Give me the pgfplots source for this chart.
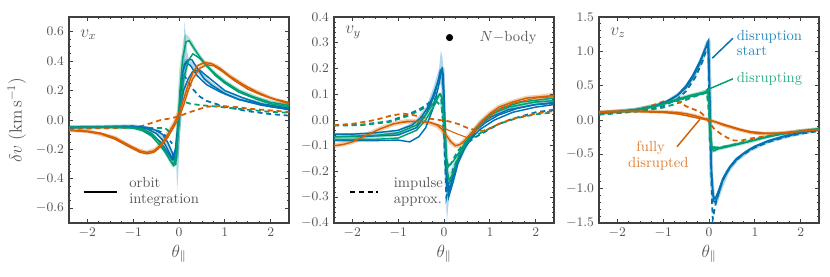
\documentclass[border=0pt]{standalone}
\usepackage{pgfplots}
\pgfplotsset{compat=1.18}
\definecolor{cB}{HTML}{0072B2}
\definecolor{cG}{HTML}{009E73}
\definecolor{cO}{HTML}{D55E00}
\definecolor{txt}{HTML}{555555}
\definecolor{frame}{HTML}{404040}
\pgfplotsset{
  myax/.style={
    scale only axis, width=150.3pt, height=140.7pt,
    xmin=-2.4, xmax=2.4, xtick={-2,-1,0,1,2}, minor x tick num=3,
    tick align=inside, xtick pos=both, ytick pos=both,
    major tick length=3pt, minor tick length=1.6pt,
    axis line style={frame, line width=0.9pt},
    every tick/.style={frame, line width=0.6pt},
    tick label style={font=\small, color=txt},
    yticklabel style={/pgf/number format/fixed, /pgf/number format/fixed zerofill, /pgf/number format/precision=1},
    xlabel={$\theta_\parallel$}, xlabel style={font=\large, color=txt, yshift=2pt},
    clip=true,
  },
  sol/.style={line width=1.0pt},
  das/.style={line width=1.2pt, dash pattern=on 3.5pt off 2.5pt},
  nb/.style={line width=2.6pt, opacity=0.3, line join=round},
  spk/.style={draw=none, fill opacity=0.3},
}
\begin{document}
\begin{tikzpicture}
\path[use as bounding box] (-47.13pt,-36.88pt) rectangle (519.76pt,152.31pt);
% ---------------- Panel 1: v_x ----------------
\begin{axis}[myax, at={(0pt,0pt)}, ymin=-0.7, ymax=0.7, ytick={-0.6,-0.4,...,0.61}, minor y tick num=3,
  ylabel={$\delta v\;(\mathrm{km\,s^{-1}})$}, ylabel style={font=\large, color=txt}]
% N-body
\addplot[cB, spk, fill=cB] coordinates {(-0.07,-0.22) (-0.04,-0.48) (-0.01,-0.32) (0.03,0.0) (0.08,0.32) (0.12,0.67) (0.17,0.48) (0.22,0.4) (0.12,0.22) (0.03,-0.06) (-0.02,-0.18) (-0.07,-0.22)};
\addplot[cB, nb] coordinates {(-2.4,-0.05) (-1.0,-0.042) (-0.6,-0.06) (-0.35,-0.12) (-0.2,-0.2) (-0.1,-0.28) (-0.05,-0.25) (0.05,0.2) (0.15,0.4) (0.3,0.38) (0.45,0.32) (0.6,0.27) (0.8,0.22) (1.1,0.17) (1.5,0.13) (2.0,0.1) (2.4,0.08)};
\addplot[cG, nb] coordinates {(-2.4,-0.05) (-1.0,-0.05) (-0.6,-0.09) (-0.3,-0.21) (-0.12,-0.31) (-0.05,-0.2) (0.05,0.35) (0.15,0.57) (0.25,0.53) (0.4,0.45) (0.6,0.37) (0.8,0.31) (1.0,0.26) (1.3,0.2) (1.7,0.15) (2.0,0.12) (2.4,0.1)};
\addplot[cO, nb] coordinates {(-2.4,-0.07) (-2.0,-0.075) (-1.4,-0.12) (-1.0,-0.19) (-0.72,-0.22) (-0.5,-0.2) (-0.3,-0.12) (-0.1,-0.02) (0.1,0.14) (0.3,0.32) (0.55,0.39) (0.8,0.37) (1.1,0.3) (1.5,0.22) (2.0,0.15) (2.4,0.11)};
% dashed (impulse)
\addplot[cB, das] coordinates {(-2.4,-0.05) (-1.5,-0.045) (-1.0,-0.045) (-0.6,-0.06) (-0.4,-0.08) (-0.25,-0.12) (-0.15,-0.16)};
\addplot[cB, das] coordinates {(0.1,0.31) (0.2,0.26) (0.3,0.21) (0.45,0.16) (0.6,0.13) (0.8,0.11) (1.0,0.09) (1.5,0.06) (2.0,0.04) (2.4,0.03)};
\addplot[cG, das] coordinates {(-2.4,-0.055) (-1.5,-0.05) (-1.0,-0.05) (-0.6,-0.055) (-0.3,-0.055) (-0.18,-0.09)};
\addplot[cG, das] coordinates {(0.15,0.12) (0.25,0.11) (0.5,0.1) (0.7,0.095) (1.0,0.085) (1.5,0.07) (2.0,0.055) (2.4,0.05)};
\addplot[cO, das] coordinates {(-2.4,-0.06) (-1.5,-0.055) (-1.0,-0.05) (-0.8,-0.04) (-0.6,-0.02) (-0.4,0.0) (-0.2,0.01) (0,0.025) (0.2,0.05) (0.4,0.07) (0.6,0.09) (0.9,0.095) (1.2,0.09) (1.6,0.075) (2.0,0.065) (2.4,0.055)};
% solid (orbit integration)
\addplot[cB, sol] coordinates {(-2.4,-0.05) (-2,-0.048) (-1.5,-0.045) (-1.0,-0.042) (-0.7,-0.05) (-0.5,-0.07) (-0.35,-0.1) (-0.25,-0.15) (-0.15,-0.22) (-0.1,-0.28) (-0.06,-0.25) (-0.02,-0.05) (0.02,0.15) (0.06,0.3) (0.12,0.38) (0.2,0.41) (0.28,0.41) (0.4,0.35) (0.55,0.28) (0.7,0.24) (1.0,0.18) (1.3,0.14) (1.6,0.12) (2.0,0.09) (2.4,0.07)};
\addplot[cB, sol] coordinates {(-2.4,-0.05) (-1.5,-0.045) (-1.0,-0.045) (-0.7,-0.06) (-0.5,-0.09) (-0.35,-0.14) (-0.25,-0.2) (-0.15,-0.26) (-0.08,-0.2) (0.0,0.05) (0.1,0.2) (0.2,0.28) (0.3,0.33) (0.45,0.34) (0.6,0.3) (0.8,0.25) (1.0,0.2) (1.4,0.15) (1.8,0.11) (2.4,0.08)};
\addplot[cB, sol] coordinates {(-2.4,-0.052) (-1.5,-0.047) (-1.0,-0.05) (-0.8,-0.07) (-0.6,-0.1) (-0.4,-0.15) (-0.25,-0.22) (-0.15,-0.27) (-0.1,-0.25) (-0.05,-0.15) (0.0,0.0) (0.03,0.15) (0.08,0.33) (0.15,0.39) (0.25,0.37) (0.4,0.3) (0.6,0.24) (0.9,0.19) (1.3,0.14) (1.8,0.1) (2.4,0.075)};
\addplot[cG, sol] coordinates {(-2.4,-0.05) (-1.5,-0.048) (-1.0,-0.05) (-0.8,-0.06) (-0.6,-0.09) (-0.45,-0.14) (-0.3,-0.21) (-0.2,-0.27) (-0.12,-0.31) (-0.07,-0.3) (-0.03,-0.1) (0.02,0.2) (0.08,0.42) (0.15,0.53) (0.22,0.54) (0.3,0.5) (0.45,0.43) (0.6,0.37) (0.8,0.31) (1.0,0.26) (1.3,0.2) (1.6,0.16) (2.0,0.12) (2.4,0.1)};
\addplot[cG, sol] coordinates {(-2.4,-0.05) (-1.5,-0.05) (-1.0,-0.055) (-0.8,-0.07) (-0.6,-0.11) (-0.45,-0.16) (-0.3,-0.22) (-0.18,-0.28) (-0.1,-0.3) (-0.05,-0.2) (0.02,0.05) (0.1,0.28) (0.2,0.4) (0.3,0.45) (0.45,0.42) (0.6,0.37) (0.8,0.3) (1.0,0.25) (1.3,0.19) (1.7,0.14) (2.0,0.11) (2.4,0.09)};
\addplot[cO, sol] coordinates {(-2.4,-0.07) (-2.0,-0.075) (-1.7,-0.09) (-1.4,-0.12) (-1.1,-0.17) (-0.85,-0.21) (-0.7,-0.22) (-0.55,-0.21) (-0.4,-0.17) (-0.25,-0.1) (-0.1,-0.02) (0,0.05) (0.1,0.14) (0.2,0.24) (0.3,0.32) (0.4,0.37) (0.55,0.39) (0.7,0.385) (0.9,0.35) (1.1,0.3) (1.4,0.24) (1.7,0.19) (2.0,0.15) (2.4,0.11)};
\addplot[cO, sol] coordinates {(-2.4,-0.07) (-2.0,-0.08) (-1.7,-0.095) (-1.4,-0.13) (-1.1,-0.18) (-0.85,-0.22) (-0.7,-0.23) (-0.55,-0.22) (-0.4,-0.18) (-0.25,-0.12) (-0.1,-0.04) (0,0.02) (0.1,0.1) (0.2,0.2) (0.3,0.28) (0.45,0.35) (0.6,0.375) (0.75,0.37) (0.95,0.33) (1.2,0.27) (1.5,0.21) (1.8,0.17) (2.1,0.14) (2.4,0.12)};
% legend: orbit integration
\addplot[black, line width=1.2pt] coordinates {(-2.08,-0.49) (-1.36,-0.49)};
\node[anchor=west, align=left, color=txt, inner sep=0pt, font=\normalsize\linespread{0.9}\selectfont] at (axis cs:-1.09,-0.49) {orbit\\integration};
\node[anchor=west, color=txt, inner sep=0pt, font=\large] at (axis cs:-2.16,0.58) {$v_x$};
\end{axis}
% ---------------- Panel 2: v_y ----------------
\begin{axis}[myax, at={(181pt,0pt)}, ymin=-0.4, ymax=0.4, ytick={-0.4,-0.3,...,0.41}, minor y tick num=4]
\addplot[cB, spk, fill=cB] coordinates {(-0.14,0.14) (-0.07,0.27) (-0.03,0.24) (0.0,0.05) (0.03,-0.2) (0.06,-0.4) (0.1,-0.32) (0.06,-0.22) (0.02,-0.05) (-0.03,0.12) (-0.08,0.14) (-0.14,0.14)};
\addplot[cB, nb] coordinates {(-2.4,-0.06) (-1.5,-0.055) (-1.0,-0.045) (-0.6,-0.01) (-0.35,0.05) (-0.2,0.12) (-0.08,0.19) (-0.03,0.2) (0.02,-0.1) (0.07,-0.28) (0.15,-0.25) (0.3,-0.16) (0.5,-0.09) (0.8,-0.02) (1.2,0.03) (1.8,0.06) (2.4,0.07)};
\addplot[cG, nb] coordinates {(-2.4,-0.07) (-1.5,-0.065) (-1.0,-0.055) (-0.6,-0.025) (-0.35,0.03) (-0.15,0.09) (-0.07,0.1) (0.0,0.0) (0.07,-0.2) (0.14,-0.22) (0.3,-0.14) (0.5,-0.08) (0.8,-0.01) (1.2,0.04) (1.8,0.07) (2.4,0.08)};
\addplot[cO, nb, line width=3.2pt] coordinates {(-2.4,-0.1) (-2.0,-0.085) (-1.7,-0.06) (-1.4,-0.035) (-1.1,-0.015) (-0.8,-0.005) (-0.5,-0.007) (-0.3,-0.012) (-0.15,-0.022) (-0.05,-0.037) (0.05,-0.062) (0.15,-0.087) (0.25,-0.1) (0.35,-0.096) (0.45,-0.08) (0.55,-0.06) (0.7,-0.03) (0.85,0.0) (1.0,0.025) (1.2,0.05) (1.5,0.07) (1.8,0.085) (2.1,0.09) (2.4,0.097)};
% dashed
\addplot[cB, das] coordinates {(-2.4,-0.02) (-1.8,-0.018) (-1.2,-0.005) (-0.8,0.02) (-0.5,0.045) (-0.3,0.07) (-0.15,0.09) (-0.06,0.08) (0.0,-0.05) (0.05,-0.3) (0.1,-0.26) (0.2,-0.19) (0.35,-0.13) (0.5,-0.09) (0.7,-0.065) (0.9,-0.045) (1.2,-0.015) (1.5,0.005) (2.0,0.03) (2.4,0.04)};
\addplot[cG, das] coordinates {(-2.4,-0.022) (-1.8,-0.02) (-1.2,-0.008) (-0.8,0.015) (-0.5,0.04) (-0.3,0.06) (-0.15,0.07) (-0.05,0.05) (0.02,-0.1) (0.07,-0.18) (0.15,-0.17) (0.3,-0.12) (0.5,-0.08) (0.8,-0.05) (1.2,-0.015) (1.6,0.008) (2.0,0.022) (2.4,0.03)};
\addplot[cO, das] coordinates {(-2.4,-0.02) (-2.0,-0.015) (-1.5,0.0) (-1.2,0.015) (-0.9,0.025) (-0.7,0.02) (-0.5,0.012) (-0.3,0.005) (-0.1,0.0) (0.1,-0.005) (0.3,-0.015) (0.5,-0.03) (0.7,-0.04) (0.85,-0.042) (1.0,-0.032) (1.2,-0.015) (1.5,0.005) (2.0,0.025) (2.4,0.035)};
% solid
\addplot[cB, sol] coordinates {(-2.4,-0.055) (-2,-0.055) (-1.5,-0.05) (-1.0,-0.04) (-0.7,-0.02) (-0.5,0.01) (-0.35,0.05) (-0.25,0.09) (-0.15,0.14) (-0.08,0.18) (-0.03,0.19) (0.0,0.1) (0.03,-0.1) (0.06,-0.26) (0.1,-0.28) (0.15,-0.25) (0.25,-0.19) (0.35,-0.14) (0.5,-0.09) (0.7,-0.04) (0.9,-0.01) (1.2,0.02) (1.6,0.045) (2.0,0.06) (2.4,0.065)};
\addplot[cB, sol] coordinates {(-2.4,-0.065) (-2,-0.065) (-1.5,-0.062) (-1.0,-0.058) (-0.6,-0.03) (-0.4,0.02) (-0.2,0.1) (-0.08,0.19) (-0.04,0.2) (0.0,0.05) (0.05,-0.2) (0.1,-0.3) (0.2,-0.24) (0.3,-0.17) (0.45,-0.11) (0.6,-0.07) (0.8,-0.035) (1.1,0.0) (1.5,0.03) (2.0,0.05) (2.4,0.06)};
\addplot[cB, sol] coordinates {(-2.4,-0.08) (-2,-0.08) (-1.5,-0.08) (-1.0,-0.078) (-0.75,-0.085) (-0.55,-0.065) (-0.4,-0.03) (-0.25,0.04) (-0.12,0.13) (-0.06,0.19) (-0.02,0.18) (0.02,-0.05) (0.06,-0.22) (0.12,-0.27) (0.22,-0.2) (0.35,-0.13) (0.5,-0.08) (0.7,-0.03) (1.0,0.01) (1.4,0.04) (2.0,0.06) (2.4,0.068)};
\addplot[cG, sol] coordinates {(-2.4,-0.065) (-1.5,-0.06) (-1.0,-0.05) (-0.6,-0.02) (-0.4,0.02) (-0.25,0.06) (-0.15,0.09) (-0.08,0.1) (-0.03,0.08) (0.02,-0.05) (0.07,-0.2) (0.12,-0.24) (0.2,-0.2) (0.3,-0.15) (0.45,-0.1) (0.6,-0.06) (0.8,-0.01) (1.0,0.02) (1.3,0.05) (1.7,0.07) (2.4,0.085)};
\addplot[cG, sol] coordinates {(-2.4,-0.075) (-1.5,-0.075) (-1.0,-0.07) (-0.6,-0.04) (-0.4,0.0) (-0.2,0.06) (-0.1,0.1) (-0.05,0.09) (0.0,0.0) (0.05,-0.15) (0.1,-0.18) (0.2,-0.16) (0.35,-0.12) (0.5,-0.08) (0.7,-0.03) (1.0,0.02) (1.4,0.05) (2.0,0.07) (2.4,0.075)};
\addplot[cO, sol] coordinates {(-2.4,-0.1) (-2.2,-0.095) (-2.0,-0.085) (-1.7,-0.06) (-1.4,-0.035) (-1.1,-0.015) (-0.8,-0.005) (-0.5,-0.005) (-0.3,-0.01) (-0.15,-0.02) (-0.05,-0.035) (0.05,-0.06) (0.15,-0.085) (0.25,-0.1) (0.35,-0.095) (0.45,-0.08) (0.55,-0.06) (0.7,-0.03) (0.85,0.0) (1.0,0.025) (1.2,0.05) (1.5,0.07) (1.8,0.085) (2.1,0.09) (2.4,0.095)};
\addplot[cO, line width=0.7pt] coordinates {(-1.0,-0.01) (-0.6,-0.005) (-0.3,-0.01) (-0.1,-0.02) (0.1,-0.04) (0.3,-0.055) (0.5,-0.068) (0.65,-0.05) (0.85,-0.01) (1.1,0.03) (1.5,0.065) (2.0,0.085) (2.4,0.09)};
% legend
\addplot[black, only marks, mark=*, mark size=2.2pt] coordinates {(0.12,0.32)};
\node[anchor=west, color=txt, inner sep=0pt, font=\normalsize] at (axis cs:0.77,0.32) {$N-$body};
\addplot[black, line width=1.2pt, dash pattern=on 3.5pt off 2.5pt] coordinates {(-2.05,-0.28) (-1.44,-0.28)};
\node[anchor=west, align=left, color=txt, inner sep=0pt, font=\normalsize\linespread{0.9}\selectfont] at (axis cs:-1.1,-0.28) {impulse\\approx.};
\node[anchor=west, color=txt, inner sep=0pt, font=\large] at (axis cs:-2.16,0.34) {$v_y$};
\end{axis}
% ---------------- Panel 3: v_z ----------------
\begin{axis}[myax, at={(362pt,0pt)}, ymin=-1.5, ymax=1.5, ytick={-1.5,-1,...,1.51}, minor y tick num=4]
\addplot[cB, nb] coordinates {(-2.4,0.1) (-1.6,0.15) (-1.0,0.23) (-0.6,0.4) (-0.35,0.62) (-0.15,0.88) (-0.04,1.12) (-0.01,1.15) (0.02,0.2) (0.05,-0.8) (0.1,-1.2) (0.15,-1.2) (0.25,-1.0) (0.4,-0.75) (0.6,-0.58) (0.9,-0.43) (1.3,-0.31) (1.8,-0.22) (2.4,-0.14)};
\addplot[cG, nb] coordinates {(-2.4,0.1) (-1.6,0.15) (-1.0,0.24) (-0.5,0.34) (-0.2,0.39) (-0.05,0.42) (0.0,0.3) (0.03,-0.3) (0.08,-0.45) (0.2,-0.42) (0.5,-0.37) (0.9,-0.31) (1.4,-0.22) (2.0,-0.16) (2.4,-0.13)};
\addplot[cO, nb] coordinates {(-2.4,0.12) (-1.5,0.13) (-1.0,0.12) (-0.6,0.1) (-0.3,0.06) (0,0.0) (0.3,-0.07) (0.6,-0.13) (0.9,-0.18) (1.2,-0.2) (1.6,-0.19) (2.0,-0.16) (2.4,-0.14)};
% dashed
\addplot[cB, das] coordinates {(-2.4,0.08) (-2.0,0.1) (-1.5,0.13) (-1.0,0.2) (-0.7,0.3) (-0.5,0.42) (-0.3,0.62) (-0.15,0.84) (-0.05,1.04) (-0.02,1.1) (0.02,-0.2) (0.06,-1.1) (0.08,-1.45) (0.12,-1.3) (0.2,-1.05) (0.35,-0.8) (0.5,-0.65) (0.7,-0.52) (1.0,-0.4) (1.3,-0.32) (1.7,-0.24) (2.0,-0.2) (2.4,-0.16)};
\addplot[cG, das] coordinates {(-2.4,0.08) (-2.0,0.1) (-1.5,0.13) (-1.0,0.18) (-0.7,0.24) (-0.4,0.32) (-0.2,0.37) (-0.05,0.4) (0.0,0.1) (0.05,-0.38) (0.15,-0.4) (0.4,-0.38) (0.7,-0.33) (1.0,-0.28) (1.5,-0.21) (2.0,-0.16) (2.4,-0.13)};
\addplot[cO, das] coordinates {(-2.4,0.1) (-2.0,0.12) (-1.5,0.16) (-1.2,0.22) (-1.0,0.27) (-0.8,0.3) (-0.65,0.26) (-0.5,0.2) (-0.35,0.16) (-0.2,0.12) (-0.1,0.06) (0.0,-0.03) (0.1,-0.12) (0.25,-0.2) (0.4,-0.26) (0.55,-0.3) (0.7,-0.3) (0.9,-0.27) (1.2,-0.24) (1.6,-0.2) (2.0,-0.17) (2.4,-0.14)};
% solid
\addplot[cB, sol] coordinates {(-2.4,0.1) (-2.0,0.12) (-1.6,0.15) (-1.2,0.2) (-0.9,0.27) (-0.7,0.35) (-0.5,0.47) (-0.35,0.62) (-0.2,0.82) (-0.1,1.0) (-0.04,1.12) (-0.01,1.16) (0.01,0.6) (0.03,-0.3) (0.06,-0.9) (0.1,-1.18) (0.14,-1.2) (0.2,-1.1) (0.3,-0.88) (0.45,-0.7) (0.6,-0.58) (0.8,-0.47) (1.0,-0.39) (1.3,-0.31) (1.6,-0.25) (2.0,-0.19) (2.4,-0.14)};
\addplot[cB, sol] coordinates {(-2.4,0.1) (-2.0,0.12) (-1.6,0.15) (-1.2,0.2) (-0.9,0.28) (-0.7,0.36) (-0.5,0.5) (-0.35,0.66) (-0.2,0.86) (-0.1,1.02) (-0.05,1.08) (-0.02,1.05) (0.02,0.2) (0.05,-0.7) (0.09,-1.1) (0.13,-1.15) (0.2,-1.04) (0.3,-0.85) (0.45,-0.68) (0.6,-0.56) (0.8,-0.46) (1.0,-0.38) (1.3,-0.3) (1.6,-0.24) (2.0,-0.18) (2.4,-0.14)};
\addplot[cG, sol] coordinates {(-2.4,0.1) (-2.0,0.12) (-1.6,0.15) (-1.2,0.2) (-0.9,0.26) (-0.6,0.32) (-0.4,0.36) (-0.2,0.39) (-0.08,0.41) (-0.03,0.45) (0.0,0.3) (0.02,-0.2) (0.05,-0.4) (0.1,-0.45) (0.2,-0.42) (0.4,-0.39) (0.6,-0.36) (0.9,-0.31) (1.2,-0.26) (1.6,-0.2) (2.0,-0.16) (2.4,-0.13)};
\addplot[cG, sol] coordinates {(-2.4,0.1) (-2.0,0.115) (-1.6,0.14) (-1.2,0.19) (-0.9,0.25) (-0.6,0.3) (-0.4,0.34) (-0.2,0.37) (-0.08,0.39) (-0.03,0.42) (0.01,0.2) (0.03,-0.2) (0.06,-0.38) (0.12,-0.42) (0.25,-0.4) (0.45,-0.37) (0.7,-0.34) (1.0,-0.29) (1.3,-0.24) (1.7,-0.19) (2.0,-0.16) (2.4,-0.13)};
\addplot[cO, sol] coordinates {(-2.4,0.12) (-2.0,0.13) (-1.5,0.13) (-1.0,0.12) (-0.7,0.11) (-0.5,0.09) (-0.3,0.06) (-0.15,0.03) (0,0.0) (0.15,-0.03) (0.3,-0.07) (0.5,-0.11) (0.7,-0.15) (0.9,-0.18) (1.1,-0.2) (1.4,-0.2) (1.8,-0.18) (2.1,-0.16) (2.4,-0.14)};
\addplot[cO, sol] coordinates {(-2.4,0.11) (-2.0,0.12) (-1.5,0.12) (-1.0,0.11) (-0.7,0.09) (-0.5,0.065) (-0.3,0.035) (-0.1,0.01) (0.1,-0.02) (0.3,-0.06) (0.5,-0.1) (0.7,-0.14) (0.9,-0.17) (1.2,-0.19) (1.5,-0.19) (1.9,-0.17) (2.4,-0.14)};
% annotations
\addplot[cB, line width=1.0pt] coordinates {(0.07,0.9) (0.52,1.19)};
\addplot[cG, line width=1.0pt] coordinates {(-0.04,0.44) (0.52,0.6)};
\addplot[cO, line width=1.0pt] coordinates {(-0.7,-0.39) (-0.2,0.01)};
\node[anchor=west, align=left, color=cB!85!white, inner sep=0pt, font=\normalsize\linespread{0.9}\selectfont] at (axis cs:0.6,1.12) {disruption\\start};
\node[anchor=west, color=cG!85!white, inner sep=0pt, font=\normalsize] at (axis cs:0.6,0.6) {disrupting};
\node[anchor=west, color=cO!80!white, inner sep=0pt, font=\normalsize] at (axis cs:-1.59,-0.41) {fully};
\node[anchor=west, color=cO!80!white, inner sep=0pt, font=\normalsize] at (axis cs:-1.77,-0.64) {disrupted};
\node[anchor=west, color=txt, inner sep=0pt, font=\large] at (axis cs:-2.16,1.27) {$v_z$};
\end{axis}
\end{tikzpicture}
\end{document}
